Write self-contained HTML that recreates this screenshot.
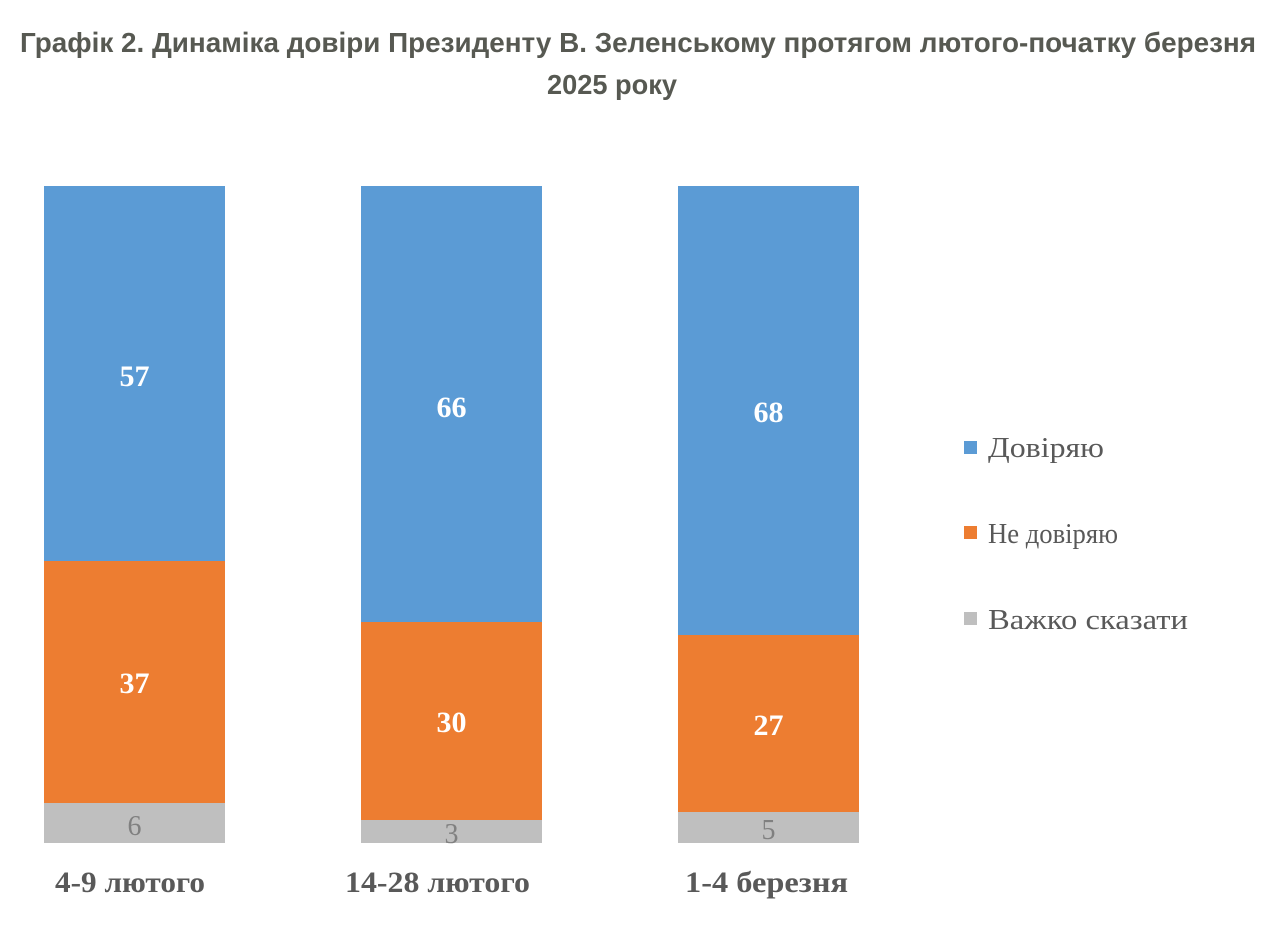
<!DOCTYPE html>
<html>
<head>
<meta charset="utf-8">
<style>
  html,body{margin:0;padding:0;background:#fff;}
  svg{display:block;}
</style>
</head>
<body>
<svg width="1270" height="932" viewBox="0 0 1270 932" xmlns="http://www.w3.org/2000/svg">
  <rect x="0" y="0" width="1270" height="932" fill="#ffffff"/>
  <!-- Title -->
  <g font-family="'Liberation Sans', Arial, sans-serif" font-weight="bold" font-size="28" fill="#575952">
    <text x="20" y="52" textLength="1236" lengthAdjust="spacingAndGlyphs">Графік 2. Динаміка довіри Президенту В. Зеленському протягом лютого-початку березня</text>
    <text x="547" y="94" textLength="130" lengthAdjust="spacingAndGlyphs">2025 року</text>
  </g>

  <!-- Bar 1 -->
  <rect x="44" y="186" width="181" height="375" fill="#5B9BD5"/>
  <rect x="44" y="561" width="181" height="242" fill="#ED7D31"/>
  <rect x="44" y="803" width="181" height="40" fill="#BFBFBF"/>
  <!-- Bar 2 -->
  <rect x="361" y="186" width="181" height="436" fill="#5B9BD5"/>
  <rect x="361" y="622" width="181" height="198" fill="#ED7D31"/>
  <rect x="361" y="820" width="181" height="23" fill="#BFBFBF"/>
  <!-- Bar 3 -->
  <rect x="678" y="186" width="181" height="449" fill="#5B9BD5"/>
  <rect x="678" y="635" width="181" height="177" fill="#ED7D31"/>
  <rect x="678" y="812" width="181" height="31" fill="#BFBFBF"/>

  <!-- Data labels -->
  <g font-family="'Liberation Serif', 'Times New Roman', serif" font-weight="bold" font-size="30" fill="#ffffff" text-anchor="middle">
    <text x="134.5" y="386">57</text>
    <text x="451.5" y="417">66</text>
    <text x="768.5" y="422">68</text>
    <text x="134.5" y="693">37</text>
    <text x="451.5" y="732">30</text>
    <text x="768.5" y="735">27</text>
  </g>
  <g font-family="'Liberation Serif', 'Times New Roman', serif" font-size="28" fill="#808080" text-anchor="middle">
    <text x="134.5" y="835">6</text>
    <text x="451.5" y="843">3</text>
    <text x="768.5" y="839">5</text>
  </g>

  <!-- Category labels -->
  <g font-family="'Liberation Serif', 'Times New Roman', serif" font-weight="bold" font-size="30" fill="#595959">
    <text x="55" y="892" textLength="150" lengthAdjust="spacingAndGlyphs">4-9 лютого</text>
    <text x="345" y="892" textLength="185" lengthAdjust="spacingAndGlyphs">14-28 лютого</text>
    <text x="685" y="892" textLength="163" lengthAdjust="spacingAndGlyphs">1-4 березня</text>
  </g>

  <!-- Legend -->
  <rect x="964" y="441" width="13" height="13" fill="#5B9BD5"/>
  <rect x="964" y="526" width="13" height="13" fill="#ED7D31"/>
  <rect x="964" y="612" width="13" height="13" fill="#BFBFBF"/>
  <g font-family="'Liberation Serif', 'Times New Roman', serif" font-size="28" fill="#595959">
    <text x="988" y="457" textLength="116" lengthAdjust="spacingAndGlyphs">Довіряю</text>
    <text x="988" y="543" textLength="130" lengthAdjust="spacingAndGlyphs">Не довіряю</text>
    <text x="988" y="629" textLength="200" lengthAdjust="spacingAndGlyphs">Важко сказати</text>
  </g>
</svg>
</body>
</html>
